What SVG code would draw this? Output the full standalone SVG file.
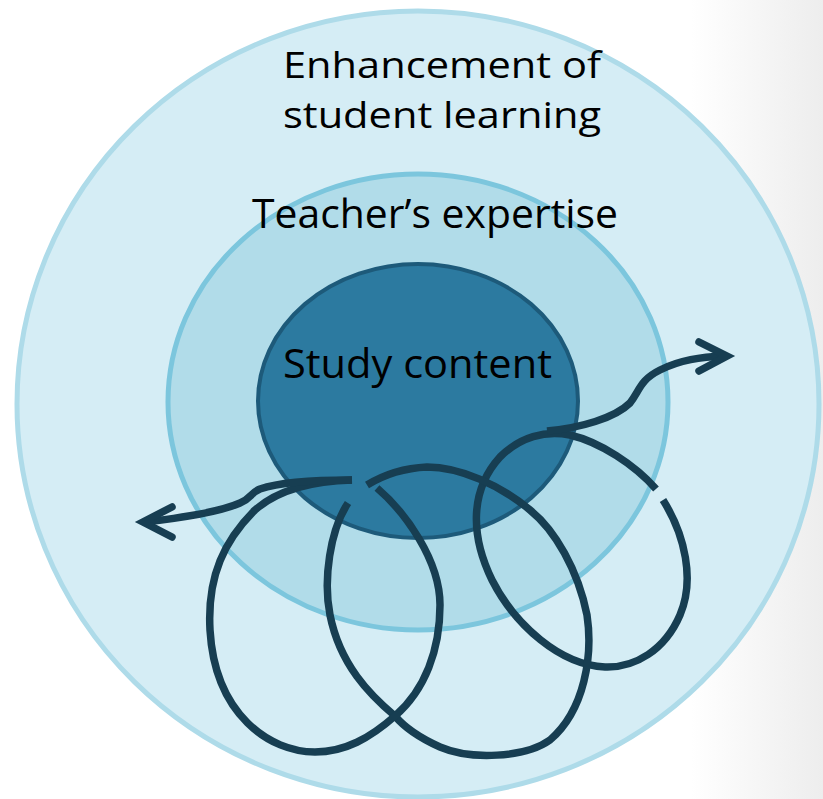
<svg xmlns="http://www.w3.org/2000/svg" width="823" height="799" viewBox="0 0 823 799">
  <defs>
    <linearGradient id="bg" x1="0" y1="0" x2="823" y2="0" gradientUnits="userSpaceOnUse">
      <stop offset="0.84" stop-color="#ffffff"/>
      <stop offset="1" stop-color="#ededed"/>
    </linearGradient>
    <style>
      .lbl { font-family: "Open Sans", "Liberation Sans", sans-serif; fill: #000000; }
      .coil { fill: none; stroke: #173e52; stroke-width: 7.5; stroke-linecap: butt; stroke-linejoin: round; }
      .head { fill: none; stroke: #173e52; stroke-width: 7.5; stroke-linecap: round; stroke-linejoin: miter; }
    </style>
  </defs>
  <rect x="0" y="0" width="823" height="799" fill="url(#bg)"/>

  <g id="node-outer">
    <ellipse cx="418" cy="404" rx="401" ry="393" fill="#d5edf5" stroke="#aedbe9" stroke-width="5"/>
    <text class="lbl" x="283" y="78" font-size="36" textLength="318" lengthAdjust="spacingAndGlyphs">Enhancement of</text>
    <text class="lbl" x="283" y="128" font-size="36" textLength="318" lengthAdjust="spacingAndGlyphs">student learning</text>
  </g>

  <g id="node-middle">
    <ellipse cx="418" cy="402" rx="250" ry="228" fill="#b1dce9" stroke="#7cc6dd" stroke-width="5"/>
    <text class="lbl" x="252" y="228" font-size="41" textLength="366" lengthAdjust="spacingAndGlyphs">Teacher’s expertise</text>
  </g>

  <g id="node-inner">
    <ellipse cx="418" cy="401" rx="160" ry="137" fill="#2c7aa0" stroke="#1d5a7a" stroke-width="4"/>
    <text class="lbl" x="283" y="378" font-size="41" textLength="269" lengthAdjust="spacingAndGlyphs">Study content</text>
  </g>

  <g id="connectors">
    <!-- right loop -->
    <path class="coil" d="M 663 500 C 685 535, 695 580, 680 615 C 665 650, 635 668, 605 667 C 560 665, 515 625, 492 580 C 470 535, 470 490, 500 457 C 520 437, 545 430, 570 435 C 600 442, 635 465, 656 489"/>
    <!-- middle loop -->
    <path class="coil" d="M 367 485 C 385 474, 405 468, 427 467 C 460 467, 500 485, 530 510 C 555 530, 578 570, 587 615 C 593 655, 585 710, 550 740 C 525 758, 470 760, 440 747 C 420 738, 405 728, 395 716 C 370 695, 340 665, 330 615 C 323 580, 330 530, 348 503"/>
    <!-- left loop -->
    <path class="coil" d="M 377 488 C 405 512, 440 560, 440 605 C 440 650, 425 690, 395 716 C 370 738, 345 752, 315 752 C 270 752, 215 715, 210 630 C 207 575, 225 540, 255 510 C 280 488, 315 481, 352 480"/>
    <!-- left arrow line -->
    <path class="coil" d="M 352 480 C 320 480, 280 482, 260 489 C 250 493, 252 498, 240 503 C 220 512, 180 518, 145 522"/>
    <path class="head" d="M 172 507 L 143 522 L 172 537"/>
    <!-- right arrow line -->
    <path class="coil" d="M 547 431 C 580 428, 615 418, 630 403 C 640 390, 640 380, 660 370 C 680 360, 700 357, 725 356"/>
    <path class="head" d="M 699 342 L 727 356 L 699 371"/>
  </g>
</svg>
